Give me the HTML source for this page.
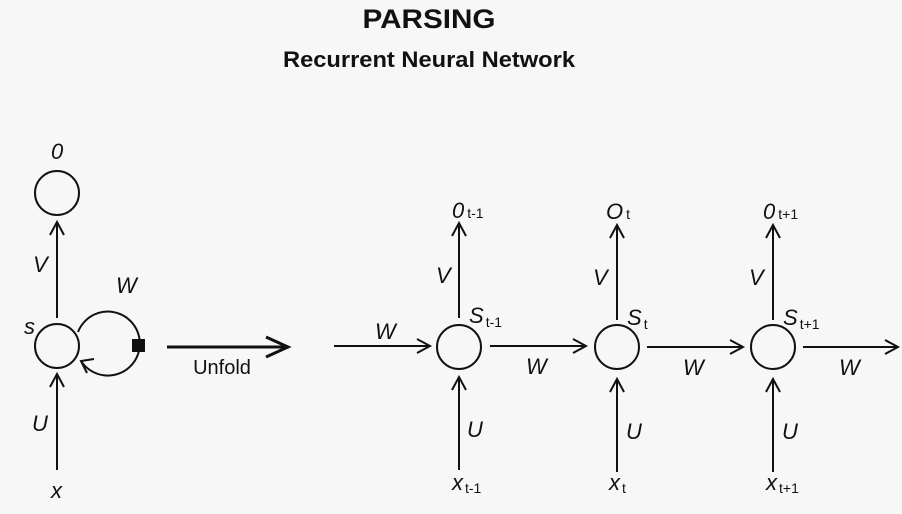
<!DOCTYPE html>
<html><head><meta charset="utf-8"><style>
html,body{margin:0;padding:0;background:#f7f7f7;}
svg{display:block;}
text{font-family:"Liberation Sans",sans-serif;fill:#111;}
.i{font-style:italic;font-size:22px;}
.sub{font-size:14px;font-style:normal;}
</style></head><body>
<svg width="902" height="514" viewBox="0 0 902 514" xmlns="http://www.w3.org/2000/svg">
<rect width="902" height="514" fill="#f7f7f7"/>
<text x="429" y="28" text-anchor="middle" font-size="27" font-weight="bold" textLength="133" lengthAdjust="spacingAndGlyphs">PARSING</text>
<text x="429" y="67" text-anchor="middle" font-size="22" font-weight="bold" textLength="292" lengthAdjust="spacingAndGlyphs">Recurrent Neural Network</text>

<g stroke="#111" stroke-width="2" fill="none">
<circle cx="57" cy="193" r="22"/>
<circle cx="57" cy="346" r="22"/>
<line x1="57" y1="318" x2="57" y2="222"/>
<polyline points="50,235 57,222 64,235"/>
<line x1="57" y1="470" x2="57" y2="374"/>
<polyline points="50,387 57,374 64,387"/>
<path d="M78,332 A32,32 0 1 1 81,361"/>
<polyline points="94,359 81,361 87,373"/>
<line x1="167" y1="347" x2="288" y2="347" stroke-width="3"/>
<polyline points="266,337 288,347 266,357" stroke-width="3"/>

<circle cx="459" cy="347" r="22"/>
<circle cx="617" cy="347" r="22"/>
<circle cx="773" cy="347" r="22"/>
<line x1="334" y1="346" x2="430" y2="346"/><polyline points="417,339 430,346 417,353"/>
<line x1="490" y1="346" x2="586" y2="346"/><polyline points="573,339 586,346 573,353"/>
<line x1="647" y1="347" x2="743" y2="347"/><polyline points="730,340 743,347 730,354"/>
<line x1="803" y1="347" x2="898" y2="347"/><polyline points="885,340 898,347 885,354"/>
<line x1="459" y1="318" x2="459" y2="223"/><polyline points="452,236 459,223 466,236"/>
<line x1="617" y1="320" x2="617" y2="225"/><polyline points="610,238 617,225 624,238"/>
<line x1="773" y1="320" x2="773" y2="225"/><polyline points="766,238 773,225 780,238"/>
<line x1="459" y1="470" x2="459" y2="377"/><polyline points="452,390 459,377 466,390"/>
<line x1="617" y1="472" x2="617" y2="379"/><polyline points="610,392 617,379 624,392"/>
<line x1="773" y1="472" x2="773" y2="379"/><polyline points="766,392 773,379 780,392"/>
</g>
<rect x="132" y="339" width="13" height="13" fill="#111"/>

<text class="i" x="51" y="159">0</text>
<text class="i" x="33" y="272">V</text>
<text class="i" x="24" y="334">s</text>
<text class="i" x="116" y="293">W</text>
<text class="i" x="32" y="431">U</text>
<text class="i" x="51" y="498">x</text>
<text x="222" y="374" text-anchor="middle" font-size="20">Unfold</text>

<text class="i" x="375" y="339">W</text>
<text class="i" x="526" y="374">W</text>
<text class="i" x="683" y="375">W</text>
<text class="i" x="839" y="375">W</text>

<text class="i" x="452" y="218">0<tspan class="sub" dx="3">t-1</tspan></text>
<text class="i" x="606" y="219">O<tspan class="sub" dx="3">t</tspan></text>
<text class="i" x="763" y="219">0<tspan class="sub" dx="3">t+1</tspan></text>

<text class="i" x="436" y="283">V</text>
<text class="i" x="593" y="285">V</text>
<text class="i" x="749" y="285">V</text>

<text class="i" x="469" y="323">S<tspan class="sub" dx="2" dy="4">t-1</tspan></text>
<text class="i" x="627" y="325">S<tspan class="sub" dx="2" dy="4">t</tspan></text>
<text class="i" x="783" y="325">S<tspan class="sub" dx="2" dy="4">t+1</tspan></text>

<text class="i" x="467" y="437">U</text>
<text class="i" x="626" y="439">U</text>
<text class="i" x="782" y="439">U</text>

<text class="i" x="452" y="490">x<tspan class="sub" dx="2" dy="3">t-1</tspan></text>
<text class="i" x="609" y="490">x<tspan class="sub" dx="2" dy="3">t</tspan></text>
<text class="i" x="766" y="490">x<tspan class="sub" dx="2" dy="3">t+1</tspan></text>
</svg>
</body></html>
